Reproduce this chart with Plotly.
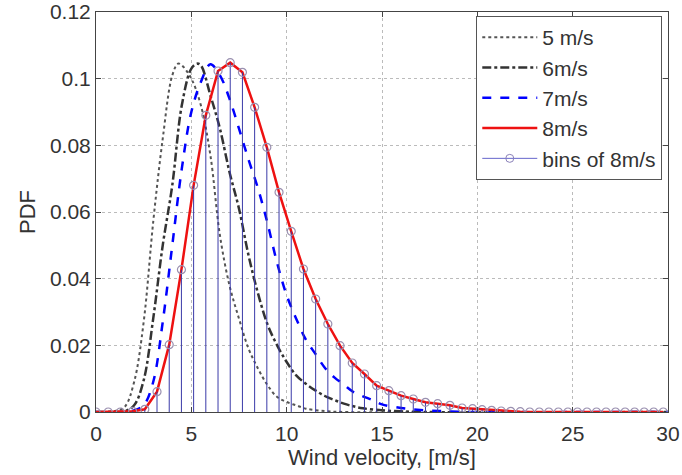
import plotly.graph_objects as go

# Bin centres and PDF values of the 8 m/s distribution
wind_bins = [0, 0.64, 1.28, 1.92, 2.56, 3.2, 3.84, 4.48, 5.12, 5.76, 6.4, 7.04, 7.68,
             8.32, 8.96, 9.6, 10.24, 10.88, 11.52, 12.16, 12.8, 13.44, 14.08, 14.72,
             15.36, 16.0, 16.64, 17.28, 17.92, 18.56, 19.2, 19.75, 20.25, 20.75, 21.25,
             21.75, 22.25, 22.75, 23.25, 23.75, 24.25, 24.75, 25.25, 25.75, 26.25,
             26.75, 27.25, 27.75, 28.25, 28.75, 29.25, 29.75]
pdf_8ms = [0, 0, 0, 0.0002, 0.0008, 0.0061, 0.0202, 0.0427, 0.068, 0.089, 0.1023,
           0.1048, 0.1019, 0.0914, 0.0794, 0.0659, 0.0542, 0.0429, 0.0339, 0.0264,
           0.0199, 0.0147, 0.0114, 0.0079, 0.0064, 0.0049, 0.0039, 0.0029, 0.0025,
           0.002, 0.0012, 0.001, 0.0007, 0.0005, 0.0003, 0.0002, 0.0001, 0, 0, 0, 0,
           0, 0, 0, 0, 0, 0, 0, 0, 0, 0, 0]

# Other curves
wind_5 = [0, 1.0, 1.5, 2.0, 2.5, 3.0, 3.5, 4.0, 4.3, 4.5, 5.0, 5.5, 6.0, 6.5, 7.0, 7.5,
          8.0, 8.5, 9.0, 9.5, 10.0, 10.5, 11.0, 12.0, 13.0, 30]
pdf_5ms = [0, 0.0003, 0.0015, 0.009, 0.027, 0.057, 0.082, 0.101, 0.1045, 0.104, 0.1,
           0.092, 0.077, 0.053, 0.038, 0.028, 0.019, 0.013, 0.008, 0.0045, 0.003,
           0.002, 0.001, 0.0003, 0, 0]

wind_6 = [0, 1.0, 1.5, 2.0, 2.5, 3.0, 3.5, 4.0, 4.5, 5.0, 5.3, 5.5, 6.0, 6.5, 7.0, 7.5,
          8.0, 8.5, 9.0, 9.5, 10.0, 10.5, 11.0, 11.5, 12.0, 12.5, 13.0, 13.5, 14.0,
          15.0, 16.0, 17.0, 30]
pdf_6ms = [0, 0, 0.0002, 0.002, 0.0095, 0.028, 0.05, 0.068, 0.092, 0.103, 0.1045,
           0.104, 0.095, 0.085, 0.072, 0.061, 0.047, 0.0355, 0.0262, 0.02, 0.015,
           0.011, 0.0085, 0.0065, 0.0048, 0.0036, 0.0025, 0.0017, 0.0011, 0.0005,
           0.0002, 0, 0]

wind_7 = [0, 1.5, 2.0, 2.5, 3.0, 3.5, 4.0, 4.5, 5.0, 5.5, 6.0, 6.5, 7.0, 7.5, 8.0, 8.5,
          9.0, 9.5, 10.0, 10.5, 11.0, 11.5, 12.0, 12.5, 13.0, 13.5, 14.0, 14.5, 15.0,
          16.0, 17.0, 18.0, 19.0, 20.0, 30]
pdf_7ms = [0, 0, 0.0005, 0.002, 0.009, 0.027, 0.05, 0.073, 0.09, 0.099, 0.1043, 0.101,
           0.094, 0.085, 0.0757, 0.067, 0.0565, 0.0447, 0.035, 0.028, 0.0218, 0.0175,
           0.0133, 0.0104, 0.0082, 0.006, 0.0047, 0.0036, 0.0023, 0.0012, 0.0006,
           0.0003, 0.0001, 0, 0]

x_ticks = [0, 5, 10, 15, 20, 25, 30]
y_ticks = [0, 0.02, 0.04, 0.06, 0.08, 0.1, 0.12]
y_tick_labels = ["0", "0.02", "0.04", "0.06", "0.08", "0.1", "0.12"]

fig = go.Figure()
fig.add_trace(go.Scatter(x=wind_5, y=pdf_5ms, mode="lines", name="5 m/s", legendgroup="a",
                         line=dict(color="#555555", width=2, dash="dot", shape="spline")))
fig.add_trace(go.Scatter(x=wind_6, y=pdf_6ms, mode="lines", name="6m/s", legendgroup="b",
                         line=dict(color="#333333", width=2.5, dash="dashdot", shape="spline")))
fig.add_trace(go.Scatter(x=wind_7, y=pdf_7ms, mode="lines", name="7m/s", legendgroup="c",
                         line=dict(color="#0000ff", width=2.5, dash="dash", shape="spline")))
fig.add_trace(go.Scatter(x=wind_bins, y=pdf_8ms, mode="lines", name="8m/s", legendgroup="d",
                         line=dict(color="#ee1111", width=2.5)))
# stems of the bins (drawn as error bars down to zero)
fig.add_trace(go.Scatter(x=wind_bins, y=pdf_8ms, mode="markers", showlegend=False,
                         legendgroup="e",
                         marker=dict(symbol="circle-open", size=8, color="#9a90b0",
                                     line=dict(width=1.2)),
                         error_y=dict(type="data", symmetric=False, array=[0] * len(pdf_8ms),
                                      arrayminus=pdf_8ms, color="#3a3aa8",
                                      thickness=1, width=0)))
# legend entry for bins
fig.add_trace(go.Scatter(x=[None], y=[None], mode="lines+markers", name="bins of 8m/s",
                         legendgroup="e",
                         line=dict(color="#6666cc", width=1),
                         marker=dict(symbol="circle-open", size=8, color="#8a80b8")))

axis_common = dict(showline=True, linecolor="#444444", linewidth=1, mirror="ticks",
                   ticks="inside", ticklen=5, tickcolor="#444444", automargin=False,
                   showgrid=True, gridcolor="#bbbbbb", griddash="dot", gridwidth=1,
                   zeroline=False, tickfont=dict(size=21, color="#333333"),
                   title_font=dict(size=22, color="#333333"))

fig.update_xaxes(range=[0, 30], tickvals=x_ticks, title_text="Wind velocity, [m/s]",
                 title_standoff=0, ticklabelstandoff=3, **axis_common)
fig.update_yaxes(range=[0, 0.12], tickvals=y_ticks, ticktext=y_tick_labels,
                 title_text="PDF", title_standoff=8, **axis_common)

fig.update_layout(
    width=682, height=475,
    margin=dict(l=96, r=14, t=12, b=63, autoexpand=False),
    paper_bgcolor="white", plot_bgcolor="white",
    font=dict(family="Liberation Sans, Arial, sans-serif", size=20, color="#333333"),
    legend=dict(x=0.99, y=0.99, xanchor="right", yanchor="top",
                bgcolor="white", bordercolor="#555555", borderwidth=1,
                font=dict(size=21), itemwidth=55, tracegroupgap=0),
)

# remove the default page margin so the figure fills the window exactly
fig.write_html("out.html", config={"displayModeBar": False},
               post_script="document.body.style.margin='0';")
